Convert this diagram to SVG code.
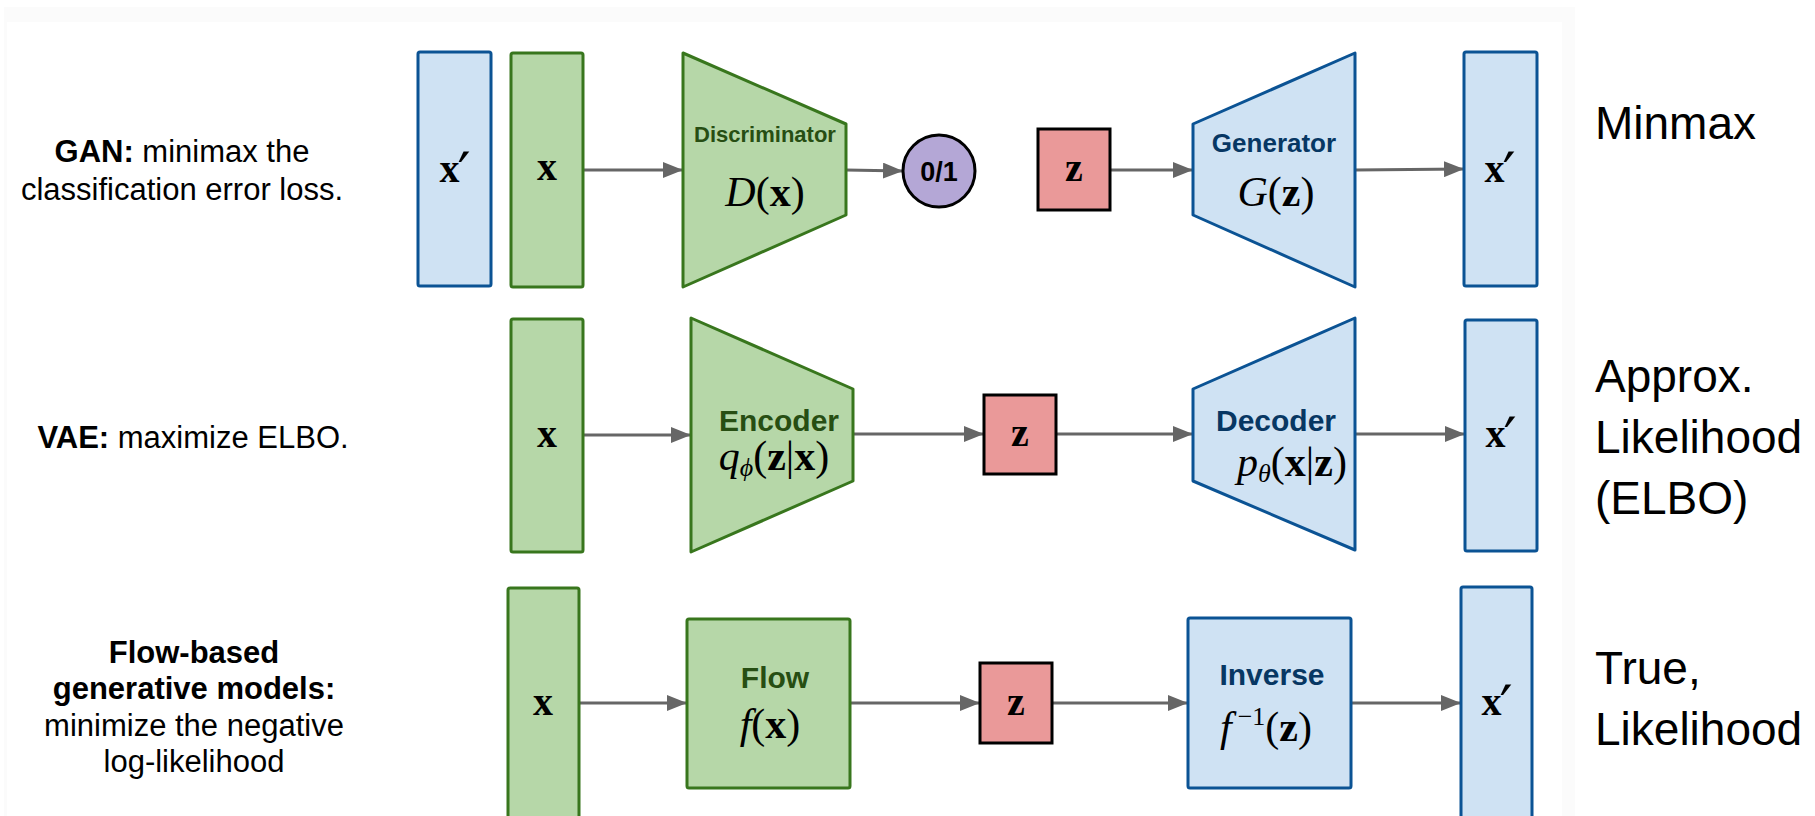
<svg xmlns="http://www.w3.org/2000/svg" width="1815" height="816" viewBox="0 0 1815 816">
<defs>
<marker id="arr" markerUnits="userSpaceOnUse" markerWidth="20" markerHeight="16" refX="20" refY="8" orient="auto">
<path d="M0,0 L20,8 L0,16 z" fill="#666666"/>
</marker>
<style>
.g{fill:#b6d7a8;stroke:#38761d;stroke-width:3;stroke-linejoin:round}
.b{fill:#cfe2f3;stroke:#0b5394;stroke-width:3;stroke-linejoin:round}
.r{fill:#ea9999;stroke:#000;stroke-width:3}
.c{fill:none;stroke:#666666;stroke-width:3;marker-end:url(#arr)}
.lt{font-family:"Liberation Sans",Arial,sans-serif;font-size:31px;fill:#000;text-anchor:middle}
.rt{font-family:"Liberation Sans",Arial,sans-serif;font-size:46px;fill:#000}
.gn{font-family:"Liberation Sans",Arial,sans-serif;font-weight:bold;fill:#274e13;text-anchor:middle}
.bn{font-family:"Liberation Sans",Arial,sans-serif;font-weight:bold;fill:#073763;text-anchor:middle}
.m{font-family:"Liberation Serif","Times New Roman",serif;font-size:42px;fill:#000;text-anchor:middle}
.v{font-family:"Liberation Serif","Times New Roman",serif;font-weight:bold;font-size:40px;fill:#000;text-anchor:middle}
.pr{font-family:"DejaVu Serif",serif;font-weight:normal;font-size:58px}
.it{font-style:italic}
.bd{font-weight:bold}
</style>
</defs>
<rect x="0" y="0" width="1815" height="816" fill="#ffffff"/>
<rect x="4" y="7" width="1571" height="809" fill="#fbfbfb"/>
<rect x="7" y="22" width="1555" height="794" fill="#ffffff"/>

<g id="labels-left">
<text class="lt" x="182" y="162"><tspan font-weight="bold">GAN:</tspan> minimax the</text>
<text class="lt" x="182" y="200">classification error loss.</text>
<text class="lt" x="193" y="448"><tspan font-weight="bold">VAE:</tspan> maximize ELBO.</text>
<text class="lt" x="194" y="663" font-weight="bold">Flow-based</text>
<text class="lt" x="194" y="699" font-weight="bold">generative models:</text>
<text class="lt" x="194" y="736">minimize the negative</text>
<text class="lt" x="194" y="772">log-likelihood</text>
</g>
<g id="labels-right">
<text class="rt" x="1595" y="139">Minmax</text>
<text class="rt" x="1595" y="392">Approx.</text>
<text class="rt" x="1595" y="453">Likelihood</text>
<text class="rt" x="1595" y="514">(ELBO)</text>
<text class="rt" x="1595" y="684">True,</text>
<text class="rt" x="1595" y="745">Likelihood</text>
</g>

<g id="connectors">
<line class="c" x1="583" y1="170" x2="683" y2="170"/>
<line class="c" x1="846" y1="170" x2="903" y2="171"/>
<line class="c" x1="1110" y1="170" x2="1193" y2="170"/>
<line class="c" x1="1355" y1="170" x2="1464" y2="169"/>
<line class="c" x1="583" y1="435" x2="691" y2="435"/>
<line class="c" x1="853" y1="434" x2="984" y2="434"/>
<line class="c" x1="1056" y1="434" x2="1193" y2="434"/>
<line class="c" x1="1355" y1="434" x2="1465" y2="434"/>
<line class="c" x1="579" y1="703" x2="687" y2="703"/>
<line class="c" x1="850" y1="703" x2="980" y2="703"/>
<line class="c" x1="1052" y1="703" x2="1188" y2="703"/>
<line class="c" x1="1351" y1="703" x2="1461" y2="703"/>
</g>

<!-- GAN row -->
<g id="gan-xprime-in">
<rect class="b" x="418" y="52" width="73" height="234" rx="2"/>
<text class="v" x="455" y="182">x<tspan class="pr" dx="-2" dy="12">′</tspan></text>
</g>
<g id="gan-x">
<rect class="g" x="511" y="53" width="72" height="234" rx="2"/>
<text class="v" x="547" y="180">x</text>
</g>
<g id="gan-discriminator">
<polygon class="g" points="683,53 846,124 846,215 683,287"/>
<text class="gn" x="765" y="142" font-size="22">Discriminator</text>
<text class="m" x="765" y="206"><tspan class="it">D</tspan>(<tspan class="bd">x</tspan>)</text>
</g>
<g id="gan-output">
<circle cx="939" cy="171" r="36" fill="#b4a7d6" stroke="#000" stroke-width="3"/>
<text x="939" y="181" font-family="Liberation Sans,Arial,sans-serif" font-weight="bold" font-size="27" text-anchor="middle" fill="#000">0/1</text>
</g>
<g id="gan-z">
<rect class="r" x="1038" y="129" width="72" height="81"/>
<text class="v" x="1074" y="181" font-size="44">z</text>
</g>
<g id="gan-generator">
<polygon class="b" points="1193,124 1355,53 1355,287 1193,215"/>
<text class="bn" x="1274" y="152" font-size="26">Generator</text>
<text class="m" x="1276" y="206"><tspan class="it">G</tspan>(<tspan class="bd">z</tspan>)</text>
</g>
<g id="gan-xprime-out">
<rect class="b" x="1464" y="52" width="73" height="234" rx="2"/>
<text class="v" x="1500" y="182">x<tspan class="pr" dx="-2" dy="12">′</tspan></text>
</g>

<!-- VAE row -->
<g id="vae-x">
<rect class="g" x="511" y="319" width="72" height="233" rx="2"/>
<text class="v" x="547" y="447">x</text>
</g>
<g id="vae-encoder">
<polygon class="g" points="691,318 853,389 853,481 691,552"/>
<text class="gn" x="779" y="431" font-size="30">Encoder</text>
<text class="m" x="774" y="470"><tspan class="it">q</tspan><tspan class="it" font-size="26" dy="6">ϕ</tspan><tspan dy="-6">(</tspan><tspan class="bd">z</tspan>|<tspan class="bd">x</tspan>)</text>
</g>
<g id="vae-z">
<rect class="r" x="984" y="395" width="72" height="79"/>
<text class="v" x="1020" y="446" font-size="44">z</text>
</g>
<g id="vae-decoder">
<polygon class="b" points="1193,389 1355,318 1355,550 1193,481"/>
<text class="bn" x="1276" y="431" font-size="30">Decoder</text>
<text class="m" x="1292" y="476"><tspan class="it">p</tspan><tspan class="it" font-size="26" dy="6">θ</tspan><tspan dy="-6">(</tspan><tspan class="bd">x</tspan>|<tspan class="bd">z</tspan>)</text>
</g>
<g id="vae-xprime">
<rect class="b" x="1465" y="320" width="72" height="231" rx="2"/>
<text class="v" x="1501" y="447">x<tspan class="pr" dx="-2" dy="12">′</tspan></text>
</g>

<!-- Flow row -->
<g id="flow-x">
<rect class="g" x="508" y="588" width="71" height="250" rx="2"/>
<text class="v" x="543" y="715">x</text>
</g>
<g id="flow-f">
<rect class="g" x="687" y="619" width="163" height="169" rx="2"/>
<text class="gn" x="775" y="688" font-size="30">Flow</text>
<text class="m" x="770" y="738"><tspan class="it">f</tspan>(<tspan class="bd">x</tspan>)</text>
</g>
<g id="flow-z">
<rect class="r" x="980" y="663" width="72" height="80"/>
<text class="v" x="1016" y="715" font-size="44">z</text>
</g>
<g id="flow-inverse">
<rect class="b" x="1188" y="618" width="163" height="170" rx="2"/>
<text class="bn" x="1272" y="685" font-size="30">Inverse</text>
<text class="m" x="1266" y="741"><tspan class="it">f</tspan><tspan font-size="26" dx="6" dy="-16">−1</tspan><tspan dy="16">(</tspan><tspan class="bd">z</tspan>)</text>
</g>
<g id="flow-xprime">
<rect class="b" x="1461" y="587" width="71" height="251" rx="2"/>
<text class="v" x="1497" y="715">x<tspan class="pr" dx="-2" dy="12">′</tspan></text>
</g>
</svg>
